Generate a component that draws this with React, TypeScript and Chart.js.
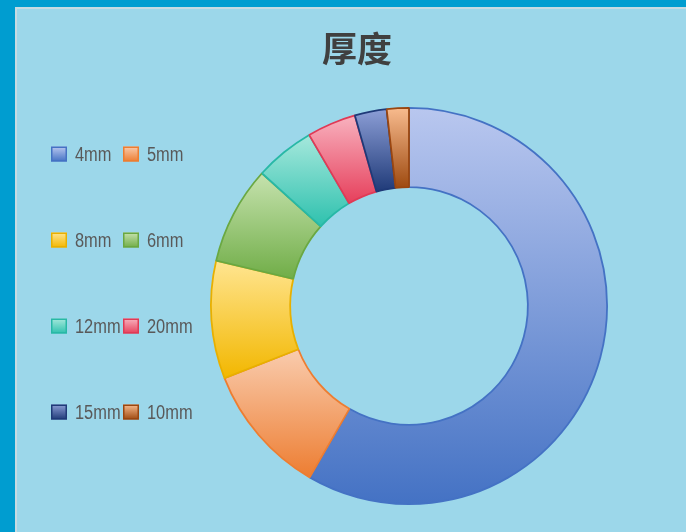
import React, { useEffect, useRef } from "react";
import { Chart, registerables } from "chart.js";

Chart.register(...registerables);

const titleText = "厚度";
const categories = ["4mm", "5mm", "8mm", "6mm", "12mm", "20mm", "15mm", "10mm"];
const values = [583, 107, 96, 80, 49, 40, 26, 18];
const lightColors = ["#b9c7ef", "#f9ccae", "#ffe591", "#c6e2ae", "#a6e8dc", "#f8b2bf", "#8c9ed6", "#f8bb8e"];
const darkColors = ["#4472c4", "#ed7d31", "#f2b700", "#70ad47", "#2ec1ae", "#e63f5b", "#1f3a78", "#9e4a10"];
const borderColors = ["#4472c4", "#ed7d31", "#e8b000", "#6aa842", "#28b8a6", "#e03a56", "#1f3a78", "#9a4610"];

function arcYExtent(cy: number, ri: number, ro: number, a0: number, a1: number) {
  const ys: number[] = [];
  for (const r of [ri, ro]) {
    for (const a of [a0, a1]) ys.push(cy + r * Math.sin(a));
  }
  const contains = (t: number) => {
    for (let k = -2; k <= 2; k++) {
      const v = t + 2 * Math.PI * k;
      if (v >= a0 - 1e-6 && v <= a1 + 1e-6) return true;
    }
    return false;
  };
  if (contains(-Math.PI / 2)) ys.push(cy - ro);
  if (contains(Math.PI / 2)) ys.push(cy + ro);
  return [Math.min(...ys), Math.max(...ys)];
}

const gradientPlugin = {
  id: "sliceGradients",
  beforeDatasetsDraw(chart: any) {
    const ctx = chart.ctx;
    const meta = chart.getDatasetMeta(0);
    meta.data.forEach((el: any, i: number) => {
      const [y0, y1] = arcYExtent(el.y, el.innerRadius, el.outerRadius, el.startAngle, el.endAngle);
      const g = ctx.createLinearGradient(0, y0, 0, y1);
      g.addColorStop(0, lightColors[i]);
      g.addColorStop(1, darkColors[i]);
      el.options.backgroundColor = g;
    });
  },
  afterDraw(chart: any) {
    const ctx = chart.ctx;
    ctx.save();
    // title
    ctx.fillStyle = "#404040";
    ctx.font = "bold 35px 'Noto Sans CJK SC'";
    ctx.textAlign = "center";
    ctx.textBaseline = "middle";
    ctx.fillText(titleText, 357, 49);
    // legend
    const colX = [51, 123];
    const rowY = [154, 240, 326, 412];
    categories.forEach((label, i) => {
      const x = colX[i % 2];
      const yc = rowY[Math.floor(i / 2)];
      const bx = x, by = yc - 7.5, bw = 16, bh = 15;
      const g = ctx.createLinearGradient(0, by, 0, by + bh);
      g.addColorStop(0, lightColors[i]);
      g.addColorStop(1, darkColors[i]);
      ctx.fillStyle = g;
      ctx.fillRect(bx, by, bw, bh);
      ctx.strokeStyle = borderColors[i];
      ctx.lineWidth = 1.5;
      ctx.strokeRect(bx + 0.75, by + 0.75, bw - 1.5, bh - 1.5);
      ctx.save();
      ctx.translate(x + 24, yc + 1);
      ctx.scale(0.82, 1);
      ctx.font = "20px 'Liberation Sans', Arial, sans-serif";
      ctx.textAlign = "left";
      ctx.fillStyle = "#595959";
      ctx.fillText(label, 0, 0);
      ctx.restore();
    });
    ctx.restore();
  },
};

export default function App() {
  const ref = useRef<HTMLCanvasElement | null>(null);
  useEffect(() => {
    document.body.style.margin = "0";
    const chart = new Chart(ref.current as HTMLCanvasElement, {
      type: "doughnut",
      data: {
        labels: categories,
        datasets: [
          {
            data: values,
            backgroundColor: darkColors,
            borderColor: borderColors,
            borderWidth: 1.8,
          },
        ],
      },
      options: {
        animation: false,
        responsive: false,
        maintainAspectRatio: false,
        cutout: "60%",
        layout: { padding: { left: 210, top: 107, right: 78, bottom: 27 } },
        plugins: {
          legend: { display: false },
          title: { display: false },
          tooltip: { enabled: false },
        },
      },
      plugins: [gradientPlugin],
    });
    return () => chart.destroy();
  }, []);
  return (
    <div style={{ position: "relative", width: 686, height: 532, background: "#009dd0", overflow: "hidden" }}>
      <div
        style={{
          position: "absolute",
          left: 15,
          top: 7,
          right: 0,
          bottom: 0,
          background: "#9cd7ea",
          borderLeft: "2px solid #c6dbe2",
          borderTop: "2px solid #c6dbe2",
        }}
      />
      <canvas ref={ref} width={686} height={532} style={{ position: "absolute", left: 0, top: 0 }} />
    </div>
  );
}
